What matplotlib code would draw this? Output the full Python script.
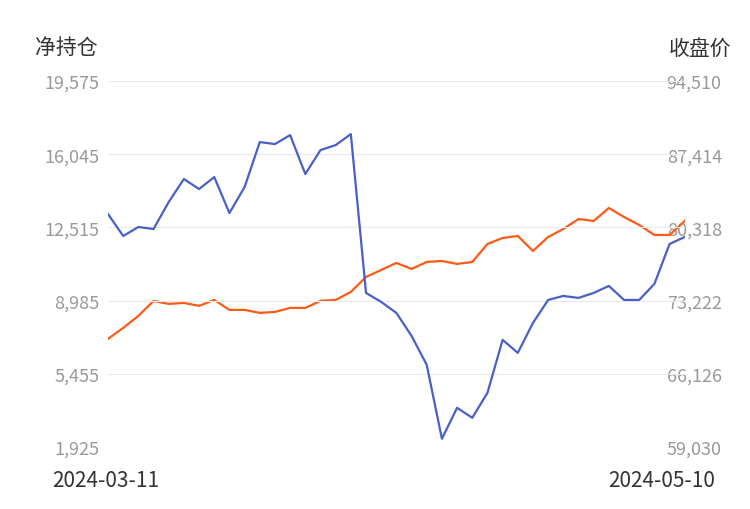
import matplotlib
matplotlib.use("Agg")
import matplotlib.pyplot as plt
import numpy as np

plt.rcParams['font.family'] = ['Noto Sans CJK SC', 'DejaVu Sans']

net_pos = [13160,12099,12533,12437,13739,14848,14366,14944,13208,14462,16632,16536,16970,
           15089,16246,16487,17018,9351,8917,8386,7277,5879,2311,3806,3323,4529,7085,6458,
           7904,9013,9206,9110,9351,9688,9013,9013,9785,11714,12051]
close = [69500,70566,71729,73183,72892,72989,72699,73280,72311,72311,72020,72117,72505,
         72505,73183,73280,74056,75510,76188,76867,76285,76964,77061,76770,76964,78709,
         79290,79484,78030,79387,80163,81132,80938,82199,81326,80551,79581,79581,80938]
left_ticks = [1925, 5455, 8985, 12515, 16045, 19575]
right_ticks = [59030, 66126, 73222, 80318, 87414, 94510]
dates = ["2024-03-11", "2024-05-10"]

fig = plt.figure(figsize=(7.5, 5.1), dpi=100)
ax = fig.add_axes([0.144, 0.122, 0.769, 0.717])
ax2 = ax.twinx()
x = np.arange(len(net_pos))
ax.plot(x, net_pos, color='#4a5fc8', lw=1.6, zorder=3)
ax2.plot(x, close, color='#ff5a14', lw=1.6)
ax.set_zorder(ax2.get_zorder() + 1); ax.patch.set_visible(False)
n = len(x) - 1
ax.set_xlim(0, n)
ax.set_ylim(left_ticks[0], left_ticks[-1])
ax2.set_ylim(right_ticks[0], right_ticks[-1])
ax.set_yticks(left_ticks, [f"{v:,}" for v in left_ticks])
ax2.set_yticks(right_ticks, [f"{v:,}" for v in right_ticks])
ax.set_xticks([])
ax.grid(axis='y', color='#e6e9f0', lw=0.8)
for a in (ax, ax2):
    for s in a.spines.values():
        s.set_visible(False)
    a.tick_params(length=0, labelsize=13, labelcolor='#999999')
ax.tick_params(axis='y', pad=6)
ax2.tick_params(axis='y', pad=-13)
fig.text(0.047, 0.905, "净持仓", fontsize=15, color='#333333', va='center')
fig.text(0.975, 0.905, "收盘价", fontsize=15, color='#333333', va='center', ha='right')
fig.text(0.069, 0.057, dates[0], fontsize=15, color='#333333', va='center')
fig.text(0.953, 0.057, dates[1], fontsize=15, color='#333333', va='center', ha='right')
fig.savefig("out.png", dpi=100)
